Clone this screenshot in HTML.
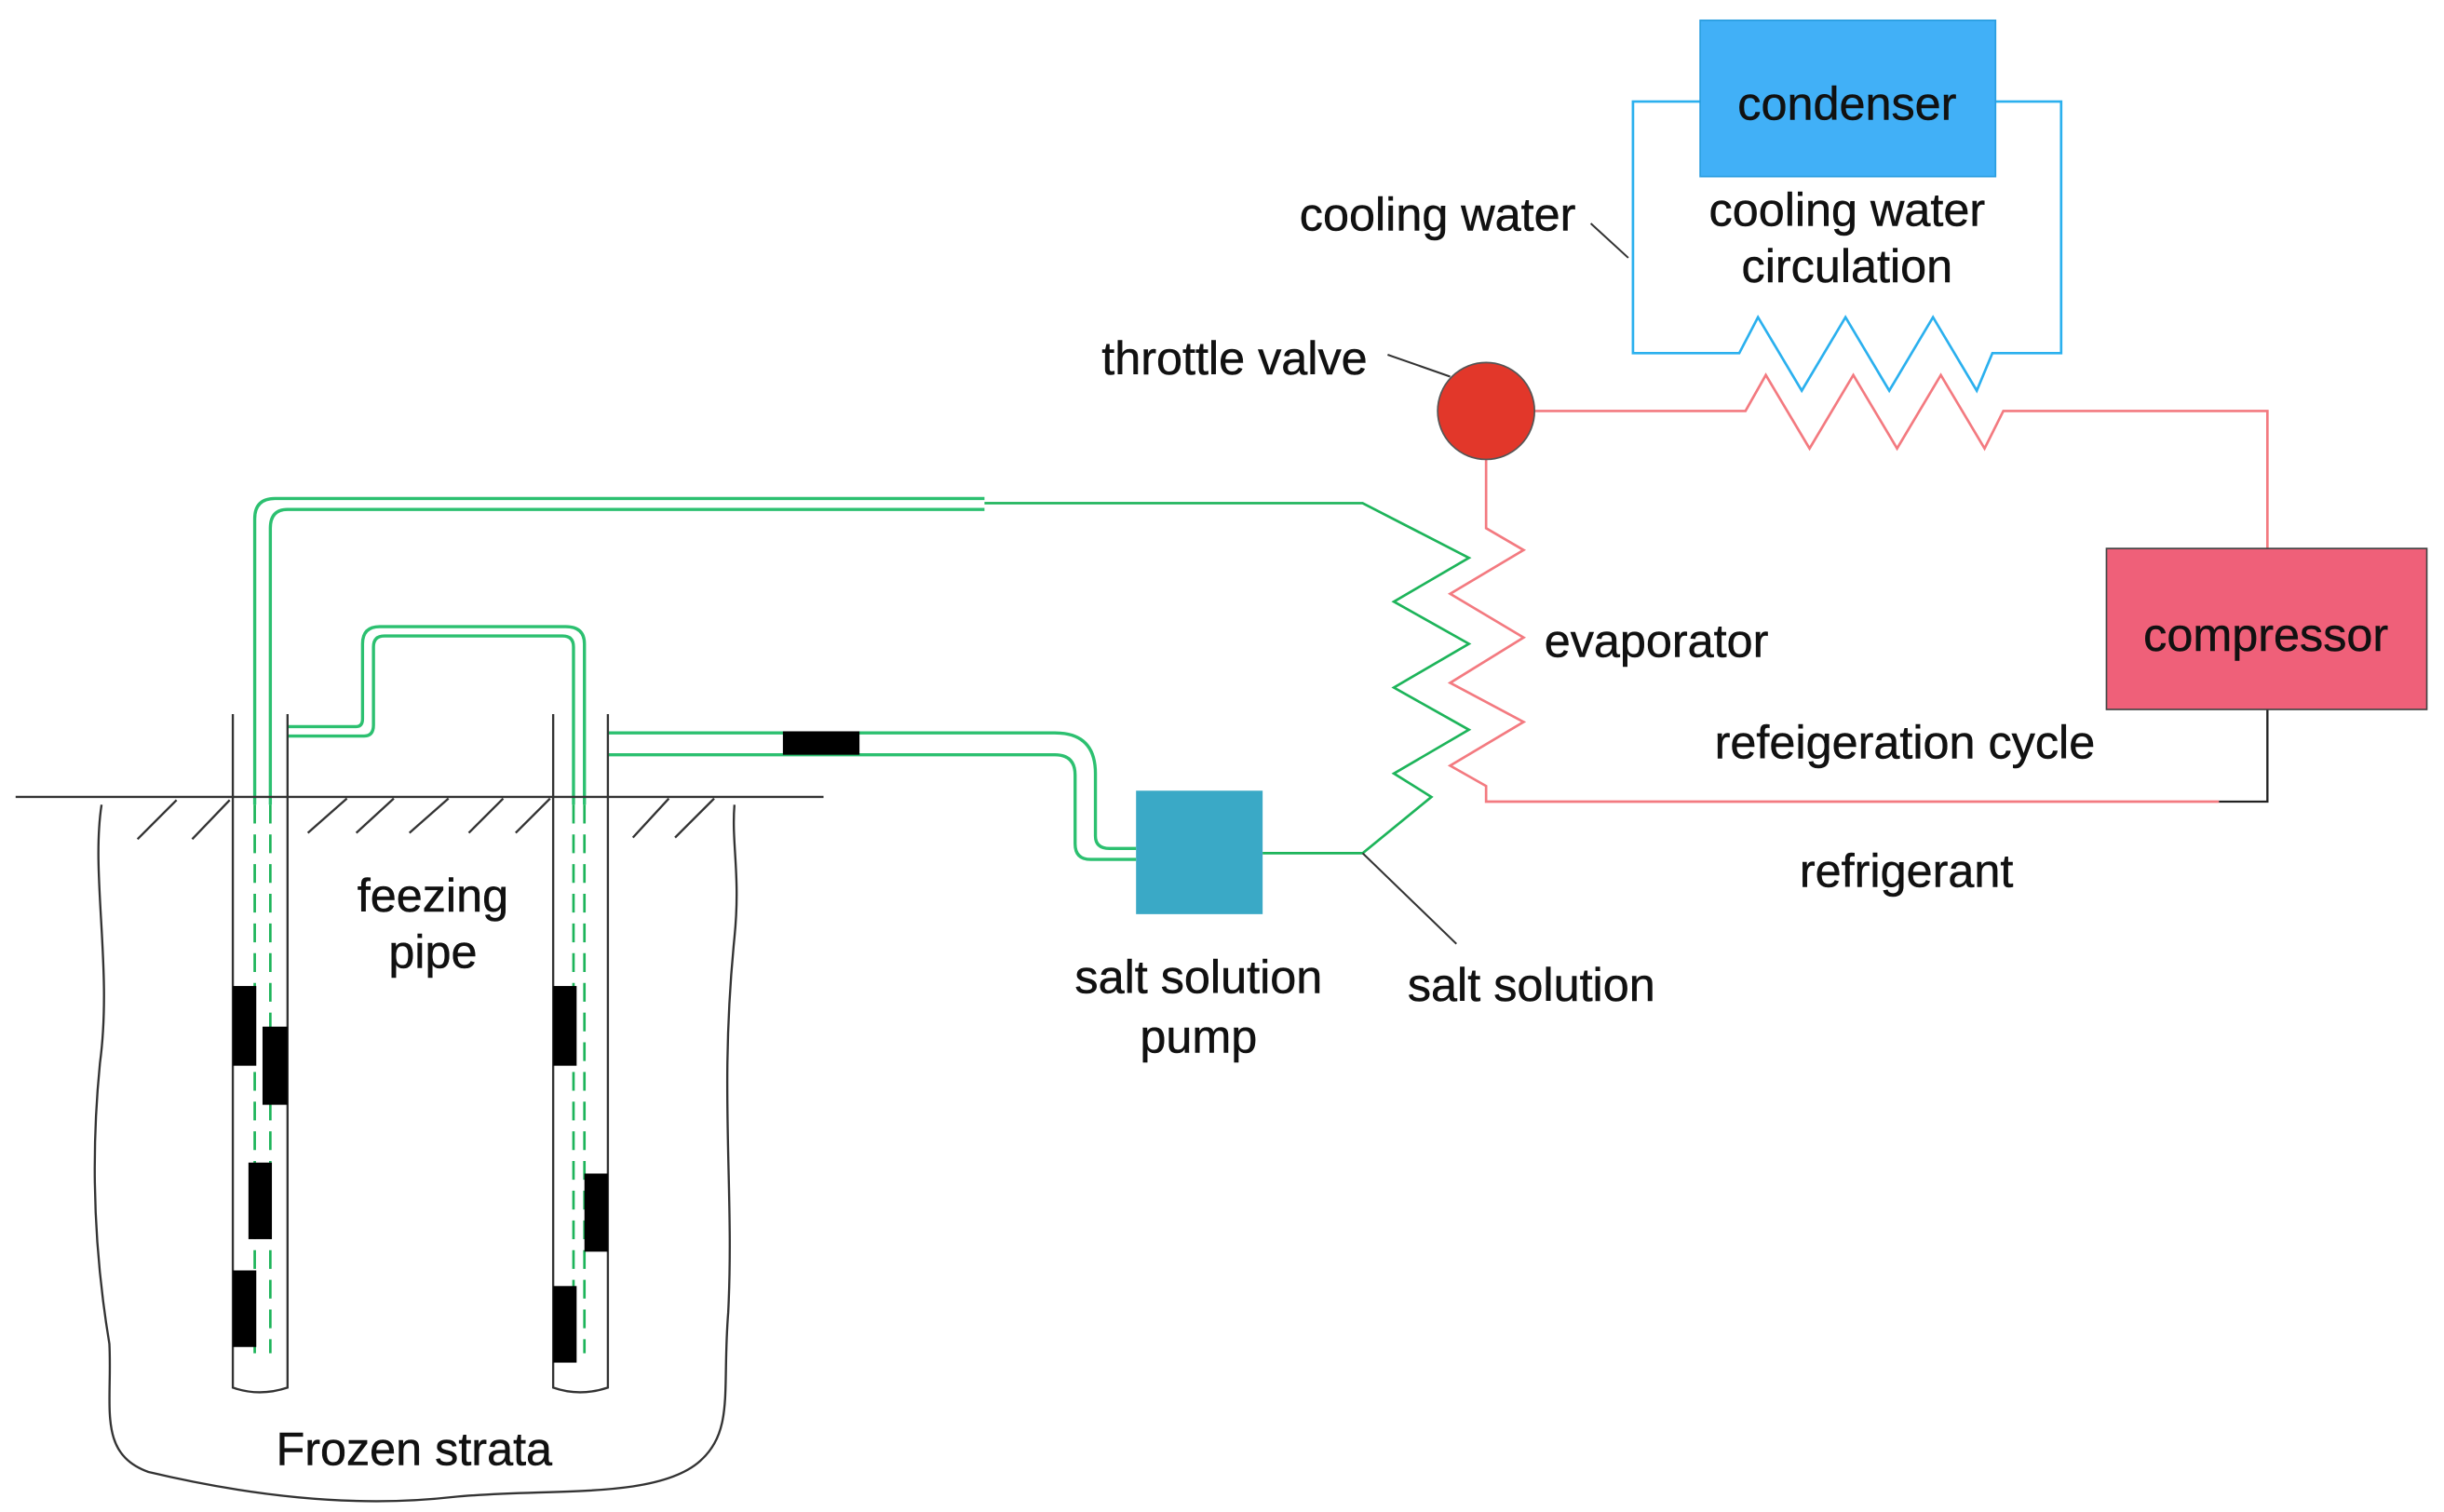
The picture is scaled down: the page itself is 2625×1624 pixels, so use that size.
<!DOCTYPE html>
<html><head><meta charset="utf-8"><style>
html,body{margin:0;padding:0;background:#fff;}
svg{display:block;}
text{font-family:"Liberation Sans","DejaVu Sans",sans-serif;font-size:30px;fill:#111;stroke:#111;stroke-width:0.3;text-anchor:middle;dominant-baseline:central;}
</style></head><body>
<svg width="2625" height="1624" viewBox="0 0 1564 967.6" preserveAspectRatio="none" xmlns="http://www.w3.org/2000/svg">
<polyline fill="none" stroke="#2bb0ee" stroke-width="1.6" points="1088,65 1045,65 1045,226 1113,226 1125,203 1153,250 1181,203 1209,250 1237,203 1265,250 1275,226 1319,226 1319,65 1277,65"/>
<rect x="1088" y="13" width="189" height="100" fill="#41b0f7" stroke="#2a9ee0"/>
<text x="1182" y="66">condenser</text>
<polyline fill="none" stroke="#f37a80" stroke-width="1.6" points="980,263 1117,263 1130,240 1158,287 1186,240 1214,287 1242,240 1270,287 1282,263 1451,263 1451,351"/>
<polyline fill="none" stroke="#f37a80" stroke-width="1.6" points="951,294 951,338 975,352 928,380 975,408 928,437 975,462 928,490 951,503 951,513 1420,513"/>
<polyline fill="none" stroke="#222" stroke-width="1.4" points="1420,513 1451,513 1451,454"/>
<rect x="1348" y="351" width="205" height="103" fill="#ef6079" stroke="#444"/>
<text x="1450" y="406">compressor</text>
<ellipse cx="951" cy="263" rx="31" ry="31" fill="#e2372a" stroke="#555" stroke-width="1"/>
<polyline fill="none" stroke="#1db45a" stroke-width="1.6" points="630,322 872,322 940,357 892,385 940,412 892,440 940,467 892,495 916,510 872,546 808,546"/>
<rect x="727" y="506" width="81" height="79" fill="#3aa9c6"/>
<g stroke="#333" stroke-width="1.2">
<line x1="872" y1="546" x2="932" y2="604"/>
<line x1="888" y1="227" x2="928" y2="241"/>
<line x1="1018" y1="143" x2="1042" y2="165"/>
</g>
<g fill="none" stroke="#2cc070" stroke-width="2">
<path d="M163,515 V332 Q163,319 176,319 H630"/>
<path d="M173,515 V338 Q173,326 184,326 H630"/>
<path d="M184,465 H228 Q232,465 232,460 V412 Q232,401 243,401 H362 Q374,401 374,412 V515"/>
<path d="M184,471 H233 Q239,471 239,464 V414 Q239,407 246,407 H360 Q367,407 367,414 V515"/>
<path d="M389,469 H675 Q701,469 701,495 V535 Q701,543 710,543 H727"/>
<path d="M389,483 H675 Q688,483 688,496 V540 Q688,550 698,550 H727"/>
</g>
<g stroke="#1db45a" stroke-width="1.6" stroke-dasharray="12,7">
<line x1="163" y1="515" x2="163" y2="866"/>
<line x1="173" y1="515" x2="173" y2="866"/>
<line x1="367" y1="515" x2="367" y2="866"/>
<line x1="374" y1="515" x2="374" y2="866"/>
</g>
<rect x="501" y="468" width="49" height="15" fill="#000"/>
<g fill="none" stroke="#333" stroke-width="1.4">
<path d="M149,457 V888 Q166,894 184,888 V457"/>
<path d="M354,457 V888 Q371,894 389,888 V457"/>
<line x1="10" y1="510" x2="527" y2="510"/>
<path d="M65,515 C58,560 72,620 64,680 C58,740 60,800 70,860 C72,900 62,930 95,942 C150,955 220,966 290,958 C350,952 420,960 448,935 C470,915 462,890 466,840 C470,760 460,700 470,600 C474,560 468,540 470,515"/>
<line x1="88" y1="537" x2="113" y2="512"/><line x1="123" y1="537" x2="147" y2="512"/>
<line x1="197" y1="533" x2="222" y2="511"/><line x1="228" y1="533" x2="252" y2="511"/>
<line x1="262" y1="533" x2="287" y2="511"/><line x1="300" y1="533" x2="322" y2="511"/>
<line x1="330" y1="533" x2="352" y2="511"/><line x1="405" y1="536" x2="428" y2="511"/>
<line x1="432" y1="536" x2="457" y2="511"/>
</g>
<g fill="#000">
<rect x="149" y="631" width="15" height="51"/><rect x="168" y="657" width="16" height="50"/>
<rect x="159" y="744" width="15" height="49"/><rect x="149" y="813" width="15" height="49"/>
<rect x="354" y="631" width="15" height="51"/><rect x="374" y="751" width="15" height="50"/>
<rect x="354" y="823" width="15" height="49"/>
</g>
<text x="920" y="137">cooling water</text>
<text x="1182" y="134">cooling water</text>
<text x="1182" y="170">circulation</text>
<text x="790" y="229">throttle valve</text>
<text x="1060" y="410">evaporator</text>
<text x="1219" y="475">refeigeration cycle</text>
<text x="1220" y="557">refrigerant</text>
<text x="980" y="630">salt solution</text>
<text x="767" y="625">salt solution</text>
<text x="767" y="663">pump</text>
<text x="277" y="573">feezing</text>
<text x="277" y="609">pipe</text>
<text x="265" y="927">Frozen strata</text>
</svg>
</body></html>
